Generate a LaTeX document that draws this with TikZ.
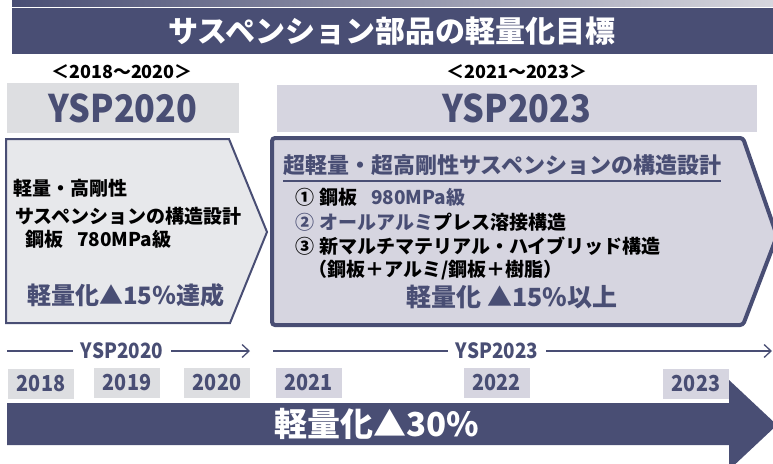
\documentclass[tikz,border=0pt]{standalone}
\usepackage{fontspec}
\setmainfont{Noto Sans CJK JP}
\newfontfamily\cond{Noto Sans CJK JP}[FakeStretch=0.9]
\usetikzlibrary{arrows.meta,calc}
\definecolor{navy}{RGB}{73,78,116}
\definecolor{greyA}{RGB}{221,222,225}
\definecolor{greyB}{RGB}{231,232,235}
\definecolor{lav}{RGB}{214,213,224}
\definecolor{stripR}{RGB}{214,214,222}
\newcommand\fsz[1]{\fontsize{#1}{#1}\selectfont}
\tikzset{
  yrgrey/.style={fill=greyA, minimum width=66, minimum height=30, inner sep=0, text=navy, font=\cond\fsz{22}\bfseries},
  yrlav/.style={yrgrey, fill=lav},
  tl/.style={text=navy, font=\cond\fsz{21}\bfseries, inner xsep=8, inner ysep=0},
  tline/.style={draw=navy, line width=1.3},
  tarrow/.style={tline, -{Straight Barb[length=7,width=13,line width=1.3]}},
  txt/.style={anchor=west, inner sep=0, font=\fsz{19}\bfseries},
  yspbox/.style={minimum height=50, inner sep=0, text=navy, font=\cond\fsz{38}\bfseries},
}
\begin{document}
\begin{tikzpicture}[x=1pt,y=-1pt]
\useasboundingbox (0,0) rectangle (773,463);
% top strip and title bar
\shade[left color=navy, right color=stripR] (12,0) rectangle (773,6);
\fill[navy] (12,7.5) rectangle (773,54);
\node[text=white, font=\fsz{30}\bfseries] (title) at (392,31) {サスペンション部品の軽量化目標};
% period labels
\node[font=\fsz{18}\bfseries] (per1) at (122,72) {＜2018～2020＞};
\node[font=\fsz{18}\bfseries] (per2) at (517,72) {＜2021～2023＞};
\node[yspbox, fill=greyA, minimum width=232] (ysp1) at (123,108) {YSP2020};
\node[yspbox, fill=lav, minimum width=480, minimum height=47] (ysp2) at (517,108) {YSP2023};
% left pentagon
\draw[fill=greyB, draw=navy, line width=2] (6,139) -- (229,139) -- (267,232) -- (230,323) -- (6,323) -- cycle;
\node[txt] (l1) at (13,188) {軽量・高剛性};
\node[txt] (l2) at (15,216) {サスペンションの構造設計};
\node[txt] (l3) at (25,239) {鋼板\hspace{14pt}780MPa級};
\node[txt, text=navy, font=\fsz{24}\bfseries] (l4) at (27,295) {軽量化▲15％達成};
% right pentagon
\draw[fill=lav, draw=navy, line width=4, rounded corners=3] (272,138) -- (743,138) -- (777,236) -- (743,325) -- (272,325) -- cycle;
\node[txt, text=navy, font=\fsz{22}\bfseries] (r0) at (283,165) {超軽量・超高剛性サスペンションの構造設計};
\draw[navy, line width=1.5] ($(r0.west)+(0,16)$) -- ($(r0.east)+(0,16)$);
\node[txt] (r1) at (295,197) {①\hspace{5pt}鋼板\hspace{14pt}\textcolor{navy}{980MPa級}};
\node[txt] (r2) at (295,222) {\textcolor{navy}{②\hspace{5pt}オールアルミ}プレス溶接構造};
\node[txt] (r3) at (295,246) {③\hspace{5pt}新マルチマテリアル・ハイブリッド構造};
\node[txt] (r4) at (308,270) {（鋼板＋アルミ/鋼板＋樹脂）};
\node[text=navy, inner sep=0, font=\fsz{25}\bfseries] (r5) at (512,297) {軽量化\hspace{6pt}▲15\%以上};
% timeline
\coordinate (t1s) at (7,351);
\coordinate (t1e) at (250,351);
\node[tl] (t1) at (122,351) {YSP2020};
\draw[tline] (t1s) -- (t1.west);
\draw[tarrow] (t1.east) -- (t1e);
\coordinate (t2s) at (273,351);
\coordinate (t2e) at (772,351);
\node[tl] (t2) at (497,351) {YSP2023};
\draw[tline] (t2s) -- (t2.west);
\draw[tarrow] (t2.east) -- (t2e);
% years
\node[yrgrey] (y18) at (41,383.5) {2018};
\node[yrgrey] (y19) at (127,383) {2019};
\node[yrgrey] (y20) at (217,383) {2020};
\node[yrlav] (y21) at (308.5,383) {2021};
\node[yrlav] (y22) at (496.5,383) {2022};
\node[yrlav] (y23) at (696,383.5) {2023};
% big arrow
\fill[navy] (7,403) -- (729,403) -- (729,380) -- (777,425) -- (729,470) -- (729,445) -- (7,445) -- cycle;
\node[text=white, font=\fsz{33}\bfseries] (big) at (377,424) {軽量化▲30\%};
\end{tikzpicture}
\end{document}
